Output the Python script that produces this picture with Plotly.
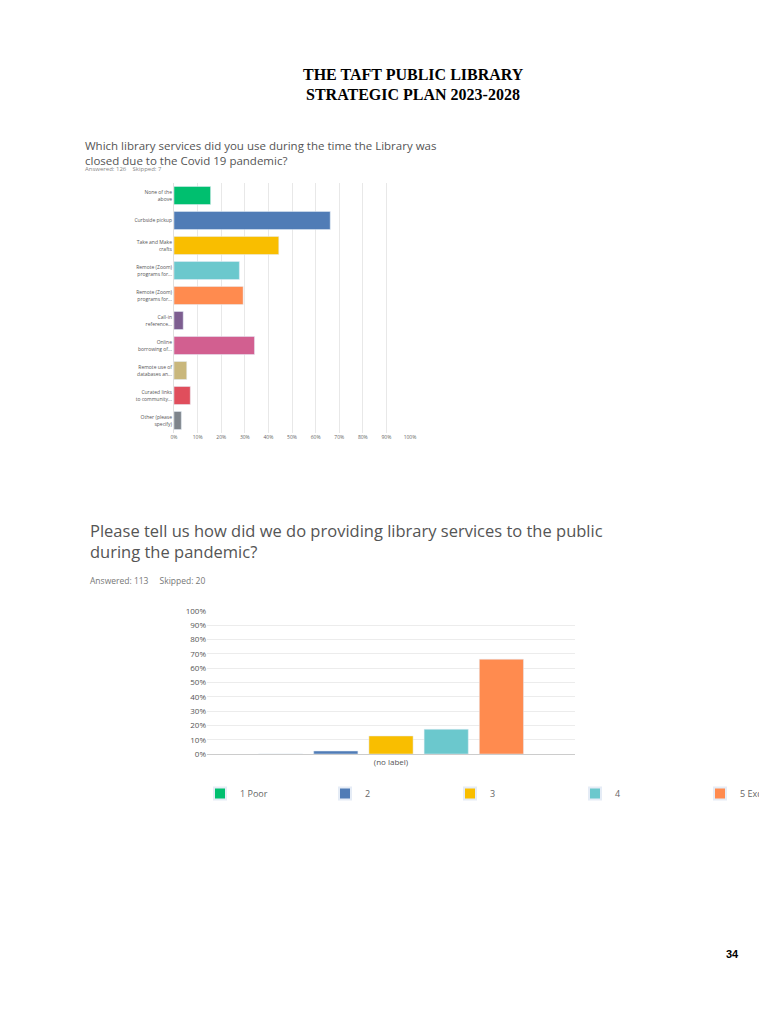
import plotly.graph_objects as go

cats1 = ["None of the<br>above", "Curbside pickup", "Take and Make<br>crafts", "Remote (Zoom)<br>programs for...",
         "Remote (Zoom)<br>programs for...", "Call-in<br>reference...", "Online<br>borrowing of...",
         "Remote use of<br>databases an...", "Curated links<br>to community...", "Other (please<br>specify)"]
vals1 = [15.5, 66.2, 44.4, 27.7, 29.3, 3.9, 34.1, 5.4, 6.9, 3.1]
colors1 = ["#00bf6f", "#507cb6", "#f9be00", "#6bc8cd", "#ff8b4f", "#7d5e90", "#d25f90", "#c9b77c", "#e04e5c", "#7e848b"]

names2 = ["1 Poor", "2", "3", "4", "5 Excellent"]
vals2 = [0, 2.1, 12.6, 17.3, 66.3]
colors2 = ["#00bf6f", "#507cb6", "#f9be00", "#6bc8cd", "#ff8b4f"]
ticks = [0, 10, 20, 30, 40, 50, 60, 70, 80, 90, 100]
ticktext = [f"{t}%" for t in ticks]

fig = go.Figure()
ids = [f"c{i}" for i in range(len(cats1))]
fig.add_trace(go.Bar(x=vals1, y=ids, orientation="h", marker_color=colors1, xaxis="x", yaxis="y",
                     showlegend=False, width=0.72))
for n, v, c in zip(names2, vals2, colors2):
    fig.add_trace(go.Bar(x=["(no label)"], y=[v], name=n, marker_color=c, xaxis="x2", yaxis="y2"))

W, H = 767, 1024
fig.update_layout(
    width=W, height=H, margin=dict(l=0, r=0, t=0, b=0, autoexpand=False), paper_bgcolor="white", plot_bgcolor="white",
    barmode="group", bargap=0.25, bargroupgap=0.2,
    font=dict(family="Open Sans", color="#666"),
    xaxis=dict(domain=[166/W, 402/W], anchor="y", range=[0, 100], tickvals=ticks, ticktext=ticktext, automargin=False,
               showgrid=True, gridcolor="#e8e8e8", zeroline=False, tickfont=dict(size=5, color="#666"), fixedrange=True),
    yaxis=dict(domain=[1-425/H, 1-175/H], anchor="x", autorange="reversed", tickvals=ids, ticktext=cats1, automargin=False,
               tickfont=dict(size=5, color="#555"), showline=True, linecolor="#e0e0e0", ticks=""),
    xaxis2=dict(domain=[199/W, 567/W], anchor="y2", tickfont=dict(size=8, color="#555"), showline=True,
                linecolor="#ccc", automargin=False),
    yaxis2=dict(domain=[1-746/H, 1-603/H], anchor="x2", range=[0, 100], tickvals=ticks, ticktext=ticktext, automargin=False,
                showgrid=True, gridcolor="#ececec", zeroline=False, tickfont=dict(size=8, color="#555")),
    legend=dict(orientation="h", x=192/W, y=1-771/H, xanchor="left", yanchor="top", entrywidth=80,
                entrywidthmode="pixels", font=dict(size=9, color="#666"), itemsizing="constant", tracegroupgap=0),
)

ann = [
    dict(x=405/W, y=1-56/H, text="<b>THE TAFT PUBLIC LIBRARY</b>", font=dict(family="Liberation Serif", size=16, color="black")),
    dict(x=405/W, y=1-76/H, text="<b>STRATEGIC PLAN 2023-2028</b>", font=dict(family="Liberation Serif", size=16, color="black")),
    dict(x=75/W, y=1-128/H, xanchor="left", align="left",
         text="Which library services did you use during the time the Library was<br>closed due to the Covid 19 pandemic?",
         font=dict(size=11.5, color="#555")),
    dict(x=75/W, y=1-155/H, xanchor="left", text="Answered: 126    Skipped: 7", font=dict(size=6, color="#888")),
    dict(x=80/W, y=1-533/H, xanchor="left", align="left",
         text="Please tell us how did we do providing library services to the public<br>during the pandemic?",
         font=dict(size=16.5, color="#555")),
    dict(x=80/W, y=1-572/H, xanchor="left", text="Answered: 113     Skipped: 20", font=dict(size=8.5, color="#777")),
    dict(x=733/W, y=1-954/H, text="<b>34</b>", font=dict(family="Liberation Sans", size=11, color="black")),
]
for a in ann:
    a.update(xref="paper", yref="paper", showarrow=False)
fig.update_layout(annotations=ann)
fig.write_html("out.html")
